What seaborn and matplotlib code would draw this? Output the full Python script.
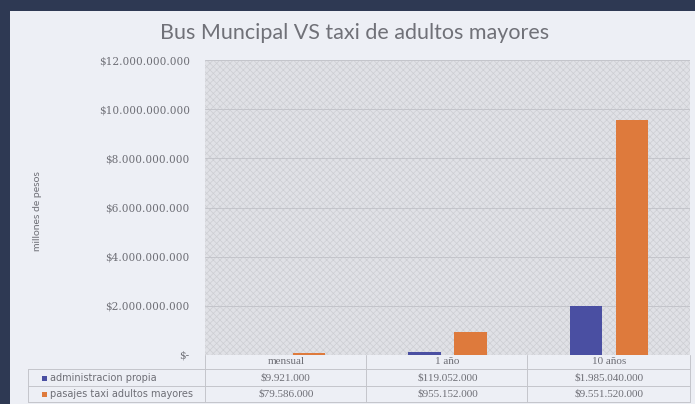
import matplotlib
matplotlib.use("Agg")
import matplotlib.pyplot as plt
import matplotlib.transforms as mtransforms
from matplotlib.patches import Rectangle
import pandas as pd
import seaborn as sns

# data
periods = ["mensual", "1 año", "10 años"]
series = ["administracion propia", "pasajes taxi adultos mayores"]
admin_values = [9921000, 119052000, 1985040000]
taxi_values = [79586000, 955152000, 9551520000]
y_ticks = [0, 2e9, 4e9, 6e9, 8e9, 10e9, 12e9]
colors = ["#4A4FA2", "#DE7A3C"]


def pesos(v):
    if v == 0:
        return "$-"
    return "$" + f"{int(v):,}".replace(",", ".")


df = pd.DataFrame({
    "periodo": periods * 2,
    "serie": [series[0]] * 3 + [series[1]] * 3,
    "valor": admin_values + taxi_values,
})

sns.set_style("white")
plt.rcParams["font.family"] = ["Lato", "DejaVu Sans"]
plt.rcParams["hatch.linewidth"] = 0.5
plt.rcParams["hatch.color"] = "#CDCED3"
text_gray = "#6E6F76"

fig = plt.figure(figsize=(6.95, 4.04), dpi=100, facecolor="#EDEFF5")

# dark screen frame from the photo
fig.patches.append(Rectangle((0, 1 - 11 / 404), 1, 11 / 404, transform=fig.transFigure,
                             facecolor="#2E3953", edgecolor="none", zorder=0))
fig.patches.append(Rectangle((0, 0), 10 / 695, 1, transform=fig.transFigure,
                             facecolor="#2E3953", edgecolor="none", zorder=0))

ax = fig.add_axes([205 / 695, 1 - 355 / 404, 485 / 695, 295 / 404])
ax.set_facecolor("#E0E1E6")

sns.barplot(data=df, x="periodo", y="valor", hue="serie", order=periods,
            hue_order=series, palette=colors, width=0.572, saturation=1,
            legend=False, ax=ax, zorder=3, linewidth=0, edgecolor="none")

# narrow the bars around their centres (Excel gap between series)
for p in ax.patches:
    c = p.get_x() + p.get_width() / 2
    p.set_width(0.2)
    p.set_x(c - 0.1)

# textured plot area
ax.add_patch(Rectangle((0, 0), 1, 1, transform=ax.transAxes, facecolor="none",
                       edgecolor="#CDCED3", hatch="xxxxx", linewidth=0, zorder=0))

ax.set_ylim(0, 12e9)
ax.set_xlim(-0.5, 2.5)
ax.set_yticks(y_ticks)
ax.set_yticklabels([pesos(v) for v in y_ticks], family="DejaVu Serif",
                   fontsize=7.6, color=text_gray)
ax.tick_params(axis="y", length=0, pad=11)
ax.tick_params(axis="x", length=0, labelbottom=False)
ax.set_xlabel("")
ax.set_ylabel("")
ax.yaxis.grid(True, color="#C4C5CB", linewidth=0.7)
ax.set_axisbelow(True)
for s in ax.spines.values():
    s.set_visible(False)

fig.text(38 / 695, 1 - 211 / 404, "millones de pesos", rotation=90, ha="center",
         va="center", fontsize=7.5, color=text_gray)
fig.text(355 / 695, 1 - 33 / 404, "Bus Muncipal VS taxi de adultos mayores",
         ha="center", va="center", fontsize=15.5, color="#707178")

# data table under the axis
line_c = "#C4C5CB"
x_edges = [205, 366, 527, 690]
for x in x_edges:
    fig.add_artist(plt.Line2D([x / 695, x / 695], [1 - 355 / 404, 1 - 402 / 404],
                              transform=fig.transFigure, color=line_c, lw=0.7))
fig.add_artist(plt.Line2D([28 / 695, 28 / 695], [1 - 369 / 404, 1 - 402 / 404],
                          transform=fig.transFigure, color=line_c, lw=0.7))
for y in [369, 386, 402]:
    fig.add_artist(plt.Line2D([28 / 695, 690 / 695], [1 - y / 404, 1 - y / 404],
                              transform=fig.transFigure, color=line_c, lw=0.7))

trans = mtransforms.blended_transform_factory(ax.transData, fig.transFigure)
row_y = [1 - 362 / 404, 1 - 378 / 404, 1 - 394 / 404]
cell_kw = dict(transform=trans, ha="center", va="center", family="Liberation Serif",
               fontsize=8.0, color=text_gray, clip_on=False)
for i, per in enumerate(periods):
    ax.text(i, row_y[0], per, **cell_kw)
    ax.text(i, row_y[1], pesos(admin_values[i]), **cell_kw)
    ax.text(i, row_y[2], pesos(taxi_values[i]), **cell_kw)

for k, name in enumerate(series):
    fig.patches.append(Rectangle((42 / 695, row_y[k + 1] - 2.5 / 404), 5 / 695, 5 / 404,
                                 transform=fig.transFigure, facecolor=colors[k],
                                 edgecolor="none"))
    fig.text(50 / 695, row_y[k + 1], name, ha="left", va="center",
             family="DejaVu Sans", fontsize=7.0, color=text_gray)

fig.savefig("out.png", dpi=100, facecolor=fig.get_facecolor())
